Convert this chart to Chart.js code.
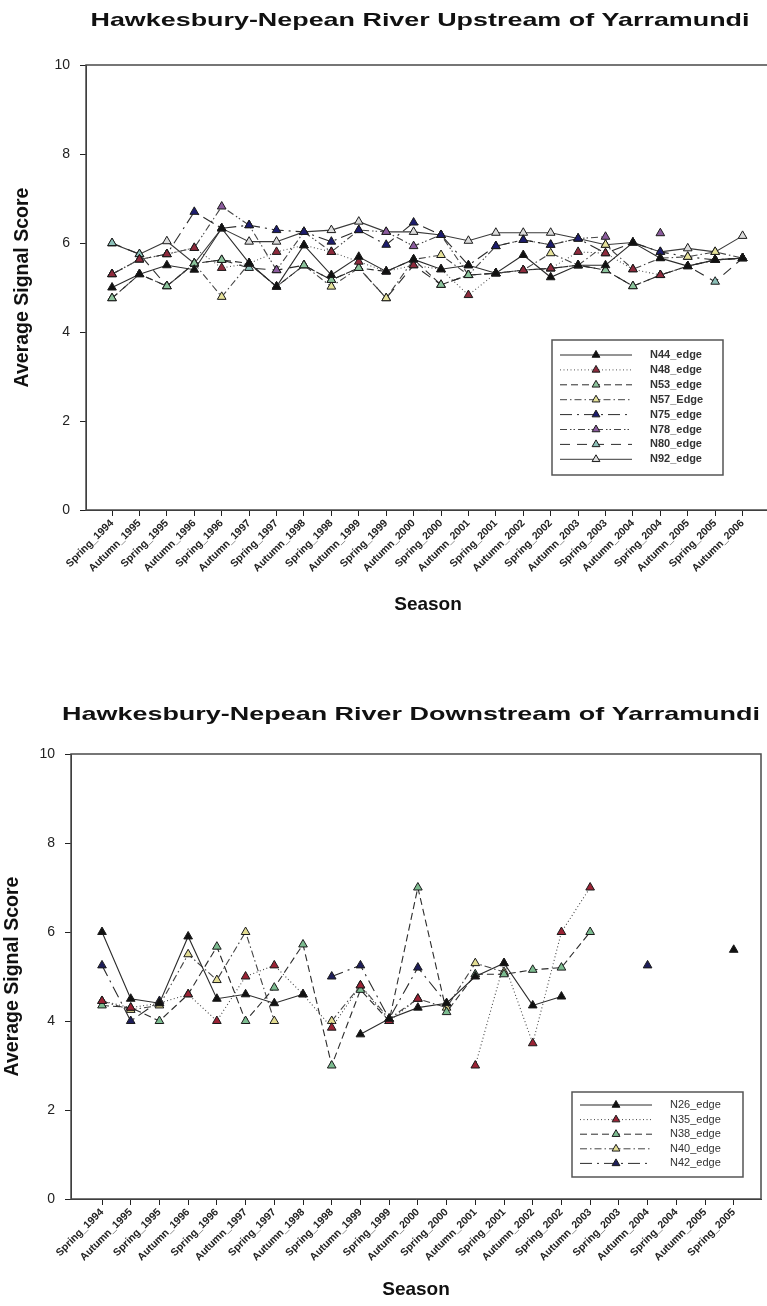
<!DOCTYPE html>
<html>
<head>
<meta charset="utf-8">
<script src="https://cdn.jsdelivr.net/npm/chart.js@4.4.0/dist/chart.umd.min.js"></script>
<style>
    html, body { margin: 0; padding: 0; background: #fff; overflow: hidden; }
    .page { position: relative; width: 767px; height: 1306px; overflow: hidden; }
    canvas { position: absolute; left: 0; }
    #upChart { top: 0; }
    #downChart { top: 653px; }
</style>
</head>
<body>
<div class="page">
    <canvas id="upChart" width="776" height="653"></canvas>
    <canvas id="downChart" width="767" height="653"></canvas>
</div>
<script>
const upSeasons = ['Spring_1994', 'Autumn_1995', 'Spring_1995', 'Autumn_1996', 'Spring_1996', 'Autumn_1997',
    'Spring_1997', 'Autumn_1998', 'Spring_1998', 'Autumn_1999', 'Spring_1999', 'Autumn_2000',
    'Spring_2000', 'Autumn_2001', 'Spring_2001', 'Autumn_2002', 'Spring_2002', 'Autumn_2003',
    'Spring_2003', 'Autumn_2004', 'Spring_2004', 'Autumn_2005', 'Spring_2005', 'Autumn_2006'];
const downSeasons = upSeasons.slice(0, 23);
const scoreTicks = [0, 2, 4, 6, 8, 10];

// upstream sites
const n44 = [5.0, 5.3, 5.5, 5.4, 6.33, 5.55, 5.02, 5.95, 5.28, 5.69, 5.36, 5.63, 5.41, 5.5, 5.32, 5.73, 5.23, 5.5, 5.5, 6.01, 5.66, 5.48, 5.62, 5.66];
const n48 = [5.3, 5.63, 5.75, 5.89, 5.44, 5.54, 5.8, 5.95, 5.8, 5.58, 5.36, 5.5, 5.41, 4.83, 5.32, 5.39, 5.43, 5.8, 5.77, 5.41, 5.28, 5.48, 5.62, 5.66];
const n53 = [4.76, 5.3, 5.03, 5.54, 5.62, 5.54, 5.02, 5.5, 5.17, 5.44, 5.36, 5.63, 5.06, 5.28, 5.32, 5.39, 5.43, 5.5, 5.39, 5.03, 5.28, 5.48, 5.62, 5.66];
const n57 = [4.76, 5.3, 5.03, 5.54, 4.79, 5.54, 5.02, 5.5, 5.02, 5.44, 4.76, 5.63, 5.73, 5.28, 5.32, 5.39, 5.77, 5.5, 5.96, 5.41, 5.66, 5.69, 5.8, 5.66];
const n75 = [5.3, 5.63, 5.75, 6.7, 6.33, 6.4, 6.29, 6.25, 6.03, 6.29, 5.96, 6.46, 6.18, 5.5, 5.93, 6.07, 5.96, 6.1, 5.77, 6.01, 5.8, 5.69, 5.62, 5.66];
const n78 = [5.3, 5.63, 5.75, 5.89, 6.82, 6.4, 5.39, 6.25, 5.8, 6.29, 6.25, 5.93, 6.18, 5.28, 5.93, 6.07, 5.96, 6.1, 6.14, null, 6.22, null, 5.62, 5.66];
const n80 = [6.0, 5.75, 5.03, 5.54, 5.62, 5.44, 5.39, 5.5, 5.17, 5.44, 4.76, 5.5, 5.06, 5.28, 5.32, 5.39, 5.43, 5.5, 5.39, 5.03, 5.28, 5.48, 5.13, 5.66];
const n92 = [5.99, 5.75, 6.04, 5.54, 6.33, 6.03, 6.03, 6.25, 6.29, 6.48, 6.25, 6.25, 6.18, 6.05, 6.23, 6.23, 6.23, 6.1, 5.96, 6.01, 5.8, 5.88, 5.8, 6.16];

// downstream sites
const n26 = [6.0, 4.5, 4.4, 5.9, 4.5, 4.6, 4.4, 4.6, null, 3.7, 4.05, 4.3, 4.4, 5.0, 5.3, 4.35, 4.55, null, null, null, null, null, 5.6];
const n35 = [4.45, 4.3, 4.4, 4.6, 4.0, 5.0, 5.25, 4.6, 3.85, 4.8, 4.0, 4.5, null, 3.0, 5.3, 3.5, 6.0, 7.0, null, null, null, null, null];
const n38 = [4.35, 4.3, 4.0, 4.6, 5.67, 4.0, 4.75, 5.72, 3.0, 4.7, 4.0, 7.0, 4.2, 5.05, 5.05, 5.15, 5.2, 6.0, null, null, null, null, null];
const n40 = [4.45, 4.25, 4.35, 5.5, 4.92, 6.0, 4.0, null, 4.0, 4.8, 4.05, 4.5, 4.3, 5.3, 5.1, null, null, null, null, null, null, null, null];
const n42 = [5.25, 4.0, 4.45, null, null, null, null, null, 5.0, 5.25, 4.05, 5.2, 4.4, null, null, null, null, null, null, 5.25, null, null, null];

const lineStyles = {
    solid: [],
    dotted: [1, 2.5],
    dashed: [7, 4],
    dashDot: [7, 3, 1.5, 3],
    longDashDot: [12, 5, 2, 5],
    dashDotDot: [7, 3, 1.5, 2, 1.5, 3],
    longDash: [10, 7]
};

const FONT = '"Liberation Sans", Arial, sans-serif';

function makeDataset(label, values, dash, fill, lineColor) {
    return {
        label: label,
        data: values.map((v, i) => ({ x: i, y: v })),
        borderColor: lineColor || '#2b2b2b',
        borderWidth: 1.1,
        borderDash: dash,
        pointStyle: 'triangle',
        pointRadius: 5,
        pointBackgroundColor: fill,
        pointBorderColor: '#1a1a1a',
        pointBorderWidth: 1,
        fill: false,
        tension: 0,
        spanGaps: false
    };
}

function drawTriangle(ctx, x, y, r, fill) {
    ctx.save();
    ctx.setLineDash([]);
    ctx.beginPath();
    ctx.moveTo(x, y - r);
    ctx.lineTo(x + r * 0.866, y + r * 0.5);
    ctx.lineTo(x - r * 0.866, y + r * 0.5);
    ctx.closePath();
    ctx.fillStyle = fill;
    ctx.fill();
    ctx.strokeStyle = '#1a1a1a';
    ctx.lineWidth = 1;
    ctx.stroke();
    ctx.restore();
}

// frame, stretched heading and boxed legend
const decorations = {
    id: 'decorations',
    beforeDatasetsDraw(chart) {
        const a = chart.chartArea;
        const ctx = chart.ctx;
        ctx.save();
        ctx.strokeStyle = '#4a4a4a';
        ctx.lineWidth = 1.5;
        ctx.strokeRect(a.left, a.top, a.right - a.left, a.bottom - a.top);
        ctx.restore();
    },
    afterDraw(chart, args, opts) {
        const ctx = chart.ctx;
        // heading
        ctx.save();
        ctx.font = 'bold 19px ' + FONT;
        ctx.fillStyle = '#111';
        ctx.textAlign = 'center';
        ctx.textBaseline = 'middle';
        const w = ctx.measureText(opts.heading).width;
        ctx.translate(opts.headingX, opts.headingY);
        ctx.scale(opts.headingWidth / w, 1);
        ctx.fillText(opts.heading, 0, 0);
        ctx.restore();

        // legend
        const L = opts.legend;
        ctx.save();
        ctx.fillStyle = '#fff';
        ctx.fillRect(L.x, L.y, L.w, L.h);
        ctx.strokeStyle = '#555';
        ctx.lineWidth = 1.5;
        ctx.strokeRect(L.x, L.y, L.w, L.h);
        chart.data.datasets.forEach((ds, i) => {
            const y = L.firstRow + i * L.rowGap;
            ctx.save();
            ctx.strokeStyle = ds.borderColor;
            ctx.lineWidth = 1;
            ctx.setLineDash(ds.borderDash);
            ctx.beginPath();
            ctx.moveTo(L.lineStart, y);
            ctx.lineTo(L.lineEnd, y);
            ctx.stroke();
            ctx.restore();
            drawTriangle(ctx, (L.lineStart + L.lineEnd) / 2, y, 4.5, ds.pointBackgroundColor);
            ctx.font = L.font;
            ctx.fillStyle = '#333';
            ctx.textAlign = 'left';
            ctx.textBaseline = 'middle';
            ctx.fillText(ds.label, L.textX, y);
        });
        ctx.restore();
    }
};

function buildChart(canvasId, seasons, datasets, cfg) {
    const ctx = document.getElementById(canvasId).getContext('2d');
    return new Chart(ctx, {
        type: 'line',
        data: { datasets: datasets },
        plugins: [decorations],
        options: {
            responsive: false,
            animation: false,
            devicePixelRatio: 1,
            layout: { padding: { top: cfg.top, right: cfg.right, bottom: 0, left: 0 } },
            plugins: {
                legend: { display: false },
                title: { display: false },
                tooltip: { enabled: false },
                decorations: cfg.decor
            },
            scales: {
                x: {
                    type: 'linear',
                    min: cfg.xMin,
                    max: cfg.xMax,
                    afterBuildTicks: (scale) => {
                        scale.ticks = seasons.map((_, i) => ({ value: i }));
                    },
                    afterFit: (scale) => { scale.height = cfg.xHeight; },
                    ticks: {
                        autoSkip: false,
                        minRotation: 45,
                        maxRotation: 45,
                        padding: 1,
                        color: '#222',
                        font: { size: 10.5, weight: 'bold', family: FONT },
                        callback: (value) => seasons[value]
                    },
                    grid: { drawOnChartArea: false, drawTicks: true, tickLength: 6, color: '#222' },
                    border: { display: true, color: '#222', width: 1 },
                    title: {
                        display: true,
                        text: 'Season',
                        color: '#111',
                        font: { size: 19, weight: 'bold', family: FONT },
                        padding: { top: 4, bottom: cfg.seasonPad }
                    }
                },
                y: {
                    min: 0,
                    max: 10,
                    afterBuildTicks: (scale) => {
                        scale.ticks = scoreTicks.map(v => ({ value: v }));
                    },
                    afterFit: (scale) => { scale.width = cfg.yWidth; },
                    ticks: {
                        color: '#222',
                        padding: 10,
                        font: { size: 14, family: FONT }
                    },
                    grid: { drawOnChartArea: false, drawTicks: true, tickLength: 6, color: '#222' },
                    border: { display: true, color: '#222', width: 1 },
                    title: {
                        display: true,
                        text: 'Average Signal Score',
                        color: '#111',
                        font: { size: 19.5, weight: 'bold', family: FONT },
                        padding: { top: cfg.scorePad, bottom: 0 }
                    }
                }
            }
        }
    });
}

window.onload = function() {
    buildChart('upChart', upSeasons, [
        makeDataset('N44_edge', n44, lineStyles.solid, '#111111'),
        makeDataset('N48_edge', n48, lineStyles.dotted, '#8e2a3c', '#555'),
        makeDataset('N53_edge', n53, lineStyles.dashed, '#8cc49c'),
        makeDataset('N57_Edge', n57, lineStyles.dashDot, '#e6e29a', '#444'),
        makeDataset('N75_edge', n75, lineStyles.longDashDot, '#1c1c6e'),
        makeDataset('N78_edge', n78, lineStyles.dashDotDot, '#8c5c9e', '#444'),
        makeDataset('N80_edge', n80, lineStyles.longDash, '#8cc0b8'),
        makeDataset('N92_edge', n92, lineStyles.solid, '#dcdcdc', '#3a3a3a')
    ], {
        top: 65, right: 0, xHeight: 143, yWidth: 86,
        xMin: -0.95, xMax: 24.0, seasonPad: 37, scorePad: 11,
        decor: {
            heading: 'Hawkesbury-Nepean River Upstream of Yarramundi',
            headingX: 420, headingY: 21, headingWidth: 659,
            legend: {
                x: 552, y: 340, w: 171, h: 135,
                firstRow: 355, rowGap: 14.9,
                lineStart: 560, lineEnd: 632, textX: 650,
                font: 'bold 11px ' + FONT
            }
        }
    });

    buildChart('downChart', downSeasons, [
        makeDataset('N26_edge', n26, lineStyles.solid, '#111111'),
        makeDataset('N35_edge', n35, lineStyles.dotted, '#9b2335', '#444'),
        makeDataset('N38_edge', n38, lineStyles.dashed, '#7cbc90'),
        makeDataset('N40_edge', n40, lineStyles.dashDot, '#e2dc92', '#444'),
        makeDataset('N42_edge', n42, lineStyles.longDashDot, '#1e1e5a')
    ], {
        top: 101, right: 2, xHeight: 107, yWidth: 71,
        xMin: -1.08, xMax: 22.95, seasonPad: 5, scorePad: 1,
        decor: {
            heading: 'Hawkesbury-Nepean River Downstream of Yarramundi',
            headingX: 411, headingY: 62, headingWidth: 698,
            legend: {
                x: 572, y: 439, w: 171, h: 85,
                firstRow: 452, rowGap: 14.6,
                lineStart: 580, lineEnd: 652, textX: 670,
                font: '11px ' + FONT
            }
        }
    });
};
</script>
</body>
</html>
